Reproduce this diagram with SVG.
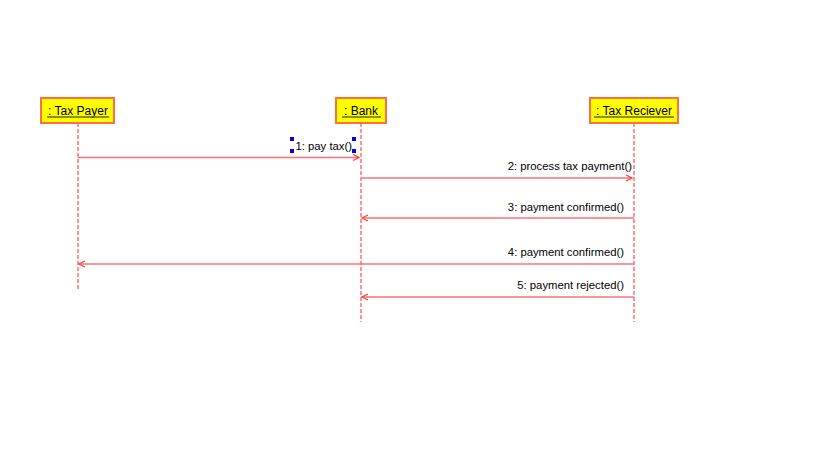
<svg xmlns="http://www.w3.org/2000/svg" width="819" height="460" viewBox="0 0 819 460">
<style>
.box{fill:#ffff00;stroke:#ff7040;stroke-width:2}
.name{font-family:"Liberation Sans",Arial,sans-serif;font-size:12px;fill:#000;text-anchor:middle}
.ul{stroke:#6b6b00;stroke-width:1.6}
.life{stroke:#ff7070;stroke-width:1.5;stroke-dasharray:4,2;fill:none}
.msg{stroke:#ff7070;stroke-width:1.3;fill:none}
.lbl{font-family:"Liberation Sans",Arial,sans-serif;font-size:11.3px;fill:#000;text-anchor:end}
.h{fill:#0000ee}
</style>
<defs>
<marker id="arr" viewBox="0 0 8 8" refX="7" refY="4" markerWidth="8" markerHeight="8" markerUnits="userSpaceOnUse" orient="auto">
<path d="M1,1 L7,4 L1,7" fill="none" stroke="#ff4040" stroke-width="1.2"/>
</marker>
</defs>
<rect width="819" height="460" fill="#fff"/>
<g id="taxpayer">
<line class="life" x1="78" y1="123" x2="78" y2="289"/>
<rect class="box" x="41" y="98" width="73" height="25"/>
<text class="name" x="78" y="114.5">: Tax Payer</text>
<line class="ul" x1="47" y1="117" x2="109" y2="117"/>
</g>
<g id="bank">
<line class="life" x1="361" y1="123" x2="361" y2="322"/>
<rect class="box" x="336" y="98" width="50" height="25"/>
<text class="name" x="361" y="114.5">: Bank</text>
<line class="ul" x1="342" y1="117" x2="381" y2="117"/>
</g>
<g id="taxreciever">
<line class="life" x1="634" y1="123" x2="634" y2="322"/>
<rect class="box" x="590" y="98" width="88" height="25"/>
<text class="name" x="634" y="114.5">: Tax Reciever</text>
<line class="ul" x1="594" y1="117" x2="674" y2="117"/>
</g>
<g id="connectors">
<line class="msg" x1="78" y1="157.5" x2="359" y2="157.5" marker-end="url(#arr)"/>
<text class="lbl" x="352" y="150">1: pay tax()</text>
<line class="msg" x1="361" y1="178" x2="632" y2="178" marker-end="url(#arr)"/>
<text class="lbl" x="632" y="170">2: process tax payment()</text>
<line class="msg" x1="634" y1="218" x2="362" y2="218" marker-end="url(#arr)"/>
<text class="lbl" x="624" y="211">3: payment confirmed()</text>
<line class="msg" x1="634" y1="264" x2="79" y2="264" marker-end="url(#arr)"/>
<text class="lbl" x="624" y="256">4: payment confirmed()</text>
<line class="msg" x1="634" y1="297" x2="362" y2="297" marker-end="url(#arr)"/>
<text class="lbl" x="624" y="289">5: payment rejected()</text>
</g>
<g id="handles">
<rect class="h" x="290" y="137" width="4" height="4"/>
<rect class="h" x="352" y="137" width="4" height="4"/>
<rect class="h" x="290" y="149" width="4" height="4"/>
<rect class="h" x="352" y="149" width="4" height="4"/>
</g>
</svg>
